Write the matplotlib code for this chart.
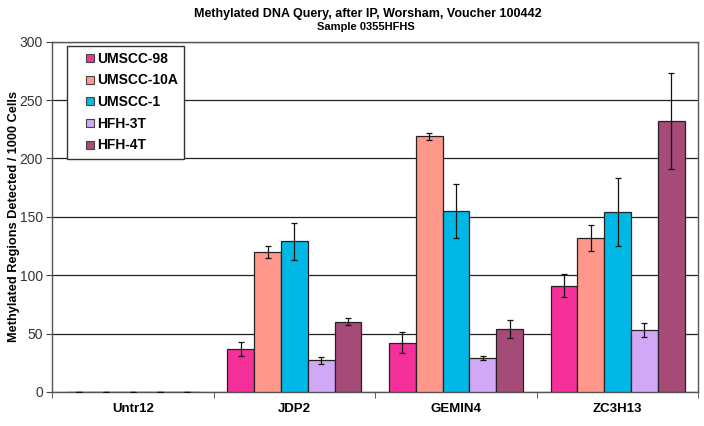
import numpy as np
import matplotlib.pyplot as plt
from matplotlib.lines import Line2D

plt.rcParams['font.family'] = ['Liberation Sans', 'DejaVu Sans']

genes = ['Untr12', 'JDP2', 'GEMIN4', 'ZC3H13']
series = ['UMSCC-98', 'UMSCC-10A', 'UMSCC-1', 'HFH-3T', 'HFH-4T']
colors = ['#F5309A', '#FF978A', '#00B8E6', '#D1A8F5', '#A64A78']

umscc98 = [0, 37, 42, 91]
umscc10a = [0, 120, 219, 132]
umscc1 = [0, 129, 155, 154]
hfh3t = [0, 27, 29, 53]
hfh4t = [0, 60, 54, 232]

err98 = [0.3, 6, 9, 10]
err10a = [0.3, 5, 3, 11]
err1 = [0.3, 16, 23, 29]
err3t = [0.3, 3, 2, 6]
err4t = [0.3, 3, 8, 41]

values = [umscc98, umscc10a, umscc1, hfh3t, hfh4t]
errors = [err98, err10a, err1, err3t, err4t]

fig = plt.figure(figsize=(7.04, 4.26), dpi=100)
ax = fig.add_axes([0.074, 0.08, 0.918, 0.822])

x = np.arange(len(genes))
w = 0.166
for i, (vals, errs) in enumerate(zip(values, errors)):
    pos = x + (i - 2) * w
    ax.bar(pos, vals, w, color=colors[i], edgecolor='#222222', linewidth=0.9,
           zorder=3)
    ax.errorbar(pos, vals, yerr=errs, fmt='none', ecolor='#111111',
                elinewidth=0.9, capsize=2.5, capthick=0.9, zorder=4)

ax.set_xlim(-0.5, 3.5)
ax.set_ylim(0, 300)
ax.set_yticks(range(0, 301, 50))
ax.yaxis.grid(True, color='#222222', linewidth=0.9, zorder=0)
ax.set_xticks(x)
ax.set_xticklabels(genes, fontweight='bold', fontsize=9.5)
ax.set_xticks(np.arange(-0.5, 4, 1), minor=True)
ax.tick_params(axis='x', which='major', length=0, pad=8)
ax.tick_params(axis='x', which='minor', length=4, direction='out', color='#444444')
ax.tick_params(axis='y', labelsize=10, length=4, pad=2.5, color='#444444',
               labelcolor='#333333')

for s in ['left', 'bottom', 'right', 'top']:
    ax.spines[s].set_color('#555555')
    ax.spines[s].set_linewidth(1.0)

ax.set_ylabel('Methylated Regions Detected / 1000 Cells', fontweight='bold',
              fontsize=9.2, va='center')
ax.yaxis.set_label_coords(-0.059, 0.5)

fig.text(0.523, 0.968, 'Methylated DNA Query, after IP, Worsham, Voucher 100442',
         ha='center', va='center', fontweight='bold', fontsize=9)
fig.text(0.52, 0.937, 'Sample 0355HFHS', ha='center', va='center',
         fontweight='bold', fontsize=8)

handles = [Line2D([], [], linestyle='none', marker='s', markersize=5.5,
                  markerfacecolor=c, markeredgecolor='#444444',
                  markeredgewidth=0.8) for c in colors]
leg = ax.legend(handles, series, loc='upper left', bbox_to_anchor=(0.023, 0.989),
                frameon=True, fancybox=False, edgecolor='#333333', framealpha=1,
                prop={'weight': 'bold', 'size': 10}, handlelength=2.4,
                handletextpad=-0.7, labelspacing=0.55, borderpad=0.45,
                borderaxespad=0)
leg.get_frame().set_linewidth(1.0)

fig.savefig('out.png', dpi=100)
